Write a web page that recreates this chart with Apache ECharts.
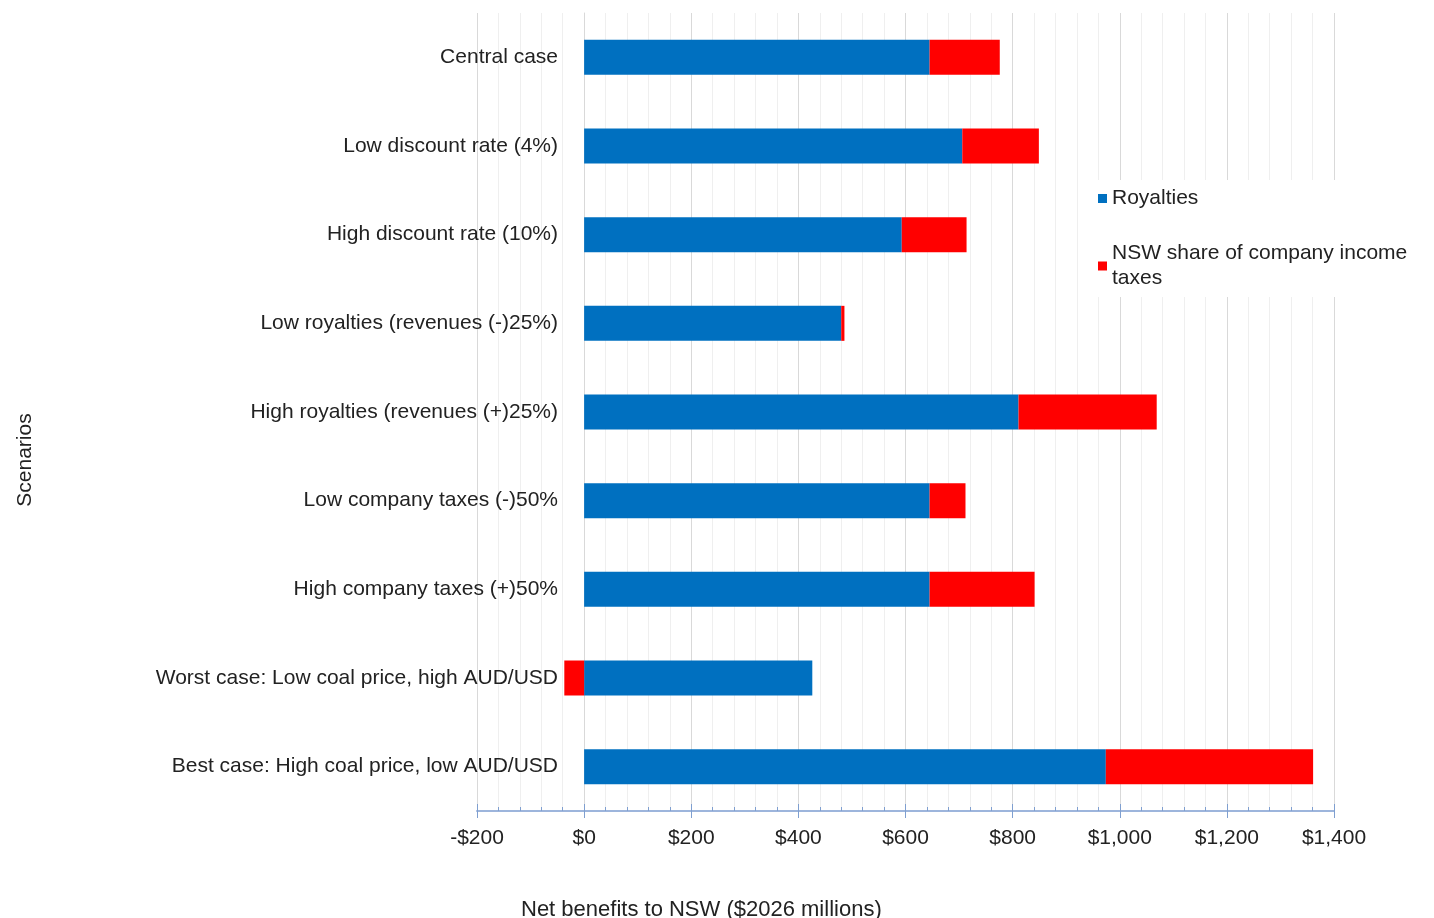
<!DOCTYPE html>
<html>
<head>
<meta charset="utf-8">
<script src="https://cdn.jsdelivr.net/npm/echarts@6/dist/echarts.min.js"></script>
<style>
  html, body { margin: 0; padding: 0; background: #fff; }
  #main { width: 1434px; height: 918px; }
</style>
</head>
<body>
<div id="main"></div>
<script>
var scenarios = [
  'Central case',
  'Low discount rate (4%)',
  'High discount rate (10%)',
  'Low royalties (revenues (-)25%)',
  'High royalties (revenues (+)25%)',
  'Low company taxes (-)50%',
  'High company taxes (+)50%',
  'Worst case: Low coal price, high AUD/USD',
  'Best case: High coal price, low AUD/USD'
];
var royalties = [645, 706, 593, 480, 811, 645, 645, 426, 974];
var companyTax = [131, 143, 121, 6, 258, 67, 196, -37, 387];
var xTicks = { min: -200, max: 1400, interval: 200 };

var font = 'Liberation Sans, Arial, Helvetica, sans-serif';

function money(v) {
  var s = Math.abs(v).toLocaleString('en-US');
  return (v < 0 ? '-$' : '$') + s;
}

var myChart = echarts.init(document.getElementById('main'));
var option = {
  backgroundColor: '#fff',
  textStyle: { fontFamily: font },
  title: {
    text: 'Net benefits to NSW ($2026 millions)',
    left: 516,
    top: 894,
    textStyle: { fontSize: 22, fontWeight: 'normal', color: '#222', fontFamily: font }
  },
  grid: { left: 477, right: 100, top: 13, bottom: 107, outerBoundsMode: 'none', containLabel: false },
  legend: {
    orient: 'vertical',
    left: 1092,
    top: 180,
    itemWidth: 9,
    itemHeight: 9,
    itemGap: 30,
    icon: 'rect',
    backgroundColor: '#fff',
    padding: [6, 4, 6, 6],
    textStyle: { fontSize: 21, color: '#222', lineHeight: 25 },
    formatter: function (name) {
      return name === 'NSW share of company income taxes' ? 'NSW share of company income\ntaxes' : name;
    },
    data: ['Royalties', 'NSW share of company income taxes']
  },
  xAxis: [{
    type: 'value',
    min: xTicks.min,
    max: xTicks.max,
    interval: xTicks.interval,
    axisLine: { show: true, onZero: false, lineStyle: { color: '#9db5dc', width: 2 } },
    axisTick: { show: true, inside: true, length: 7, lineStyle: { color: '#7f9fd0' } },
    minorTick: { show: true, splitNumber: 5, length: 4, lineStyle: { color: '#7f9fd0' } },
    axisLabel: { fontSize: 21, color: '#222', margin: 17, formatter: money },
    splitLine: { show: true, lineStyle: { color: '#d9d9d9', width: 1 } },
    minorSplitLine: { show: true, lineStyle: { color: '#efefef', width: 1 } }
  }, {
    type: 'value',
    position: 'bottom',
    min: xTicks.min,
    max: xTicks.max,
    interval: xTicks.interval,
    axisLine: { show: false },
    axisTick: { show: true, inside: false, length: 7, lineStyle: { color: '#7f9fd0' } },
    axisLabel: { show: false },
    splitLine: { show: false }
  }],
  yAxis: {
    type: 'category',
    inverse: true,
    data: scenarios,
    offset: -107,
    name: 'Scenarios',
    nameLocation: 'middle',
    nameRotate: 90,
    nameGap: 548,
    nameTextStyle: { fontSize: 21, color: '#222', padding: [0, 96, 0, 0] },
    axisLine: { show: true, onZero: false, lineStyle: { color: '#d9d9d9', width: 1 } },
    axisTick: { show: false },
    axisLabel: { fontSize: 21, color: '#222', margin: 26 }
  },
  series: [{
    name: 'Royalties',
    type: 'bar',
    stack: 'total',
    barWidth: 35,
    itemStyle: { color: '#0070c0' },
    data: royalties
  }, {
    name: 'NSW share of company income taxes',
    type: 'bar',
    stack: 'total',
    barWidth: 35,
    itemStyle: { color: '#ff0000' },
    data: companyTax
  }]
};
myChart.setOption(option);
</script>
</body>
</html>
